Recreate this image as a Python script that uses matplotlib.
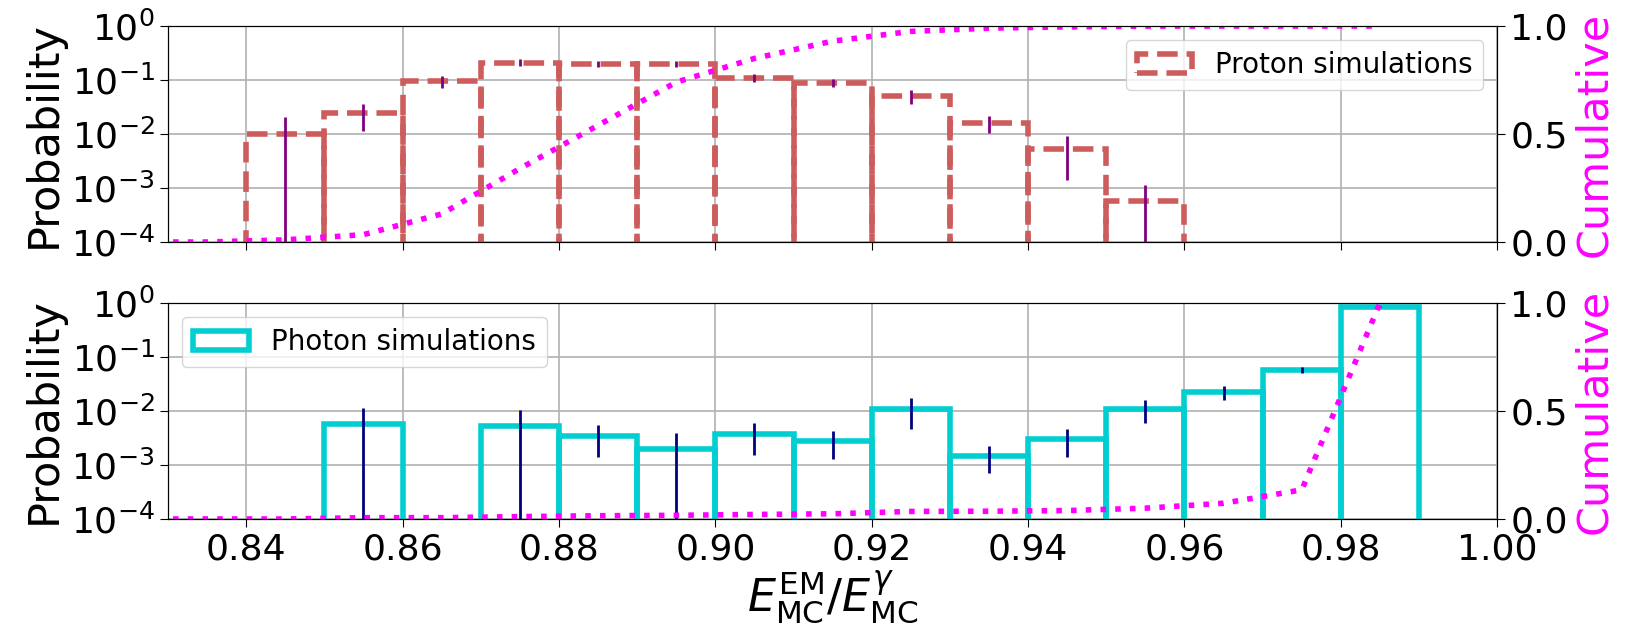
import numpy as np
import matplotlib
matplotlib.use('Agg')
import matplotlib.pyplot as plt

# bin edges (width 0.01)
proton_edges = [0.84, 0.85, 0.86, 0.87, 0.88, 0.89, 0.90, 0.91, 0.92, 0.93, 0.94, 0.95, 0.96]
proton_prob = [0.010, 0.024, 0.096, 0.21, 0.20, 0.20, 0.11, 0.088, 0.051, 0.016, 0.0053, 0.00057]
proton_err = [0.0105, 0.0125, 0.025, 0.03, 0.025, 0.025, 0.018, 0.015, 0.015, 0.0055, 0.0039, 0.00057]

photon_edges = [0.85, 0.86, 0.87, 0.88, 0.89, 0.90, 0.91, 0.92, 0.93, 0.94, 0.95, 0.96, 0.97, 0.98, 0.99]
photon_prob = [0.0057, 0.0, 0.0053, 0.0035, 0.00195, 0.0037, 0.0028, 0.0109, 0.00149, 0.0030, 0.0109, 0.0228, 0.0575, 0.855]
photon_err = [0.0057, 0.0, 0.0053, 0.0021, 0.00195, 0.0022, 0.0015, 0.0063, 0.00078, 0.0016, 0.005, 0.0068, 0.008, 0.02]

# cumulative curves, sampled at bin centres
cum_x = [0.825, 0.835, 0.845, 0.855, 0.865, 0.875, 0.885, 0.895, 0.905, 0.915,
         0.925, 0.935, 0.945, 0.955, 0.965, 0.975, 0.985]
proton_cum = [0.0, 0.0, 0.01, 0.034, 0.13, 0.34, 0.54, 0.74, 0.85, 0.93,
              0.975, 0.99, 0.996, 0.9995, 1.0, 1.0, 1.0]
photon_cum = [0.0, 0.0, 0.0, 0.006, 0.006, 0.011, 0.015, 0.017, 0.021, 0.024,
              0.035, 0.036, 0.039, 0.050, 0.073, 0.135, 1.0]

xticks = [0.84, 0.86, 0.88, 0.90, 0.92, 0.94, 0.96, 0.98, 1.00]

TICK = 26
LAB = 31

fig = plt.figure(figsize=(16.31, 6.36), dpi=100)
ax1 = fig.add_axes([0.103, 0.6195, 0.815, 0.3396])
ax2 = fig.add_axes([0.103, 0.184, 0.815, 0.3396], sharex=ax1)


def panel(ax, edges, prob, err, cum, color, ecolor, ls, label, loc):
    edges = np.array(edges)
    centers = (edges[:-1] + edges[1:]) / 2
    ax.hist(centers, bins=edges, weights=prob, histtype='bar', fill=False,
            edgecolor=color, linestyle=ls, linewidth=4, log=True, label=label, zorder=2)
    prob = np.array(prob)
    m = prob > 0
    ax.errorbar(centers[m], prob[m], yerr=np.array(err)[m], fmt='none',
                ecolor=ecolor, elinewidth=2, zorder=3)
    ax.set_yscale('log')
    ax.set_ylim(1e-4, 1)
    ax.set_yticks([1e-4, 1e-3, 1e-2, 1e-1, 1])
    ax.minorticks_off()
    ax.grid(True, color='#b0b0b0', linewidth=1.2)
    ax.set_axisbelow(True)
    ax.set_ylabel('Probability', fontsize=LAB)
    ax.tick_params(labelsize=TICK, length=6)
    ax.legend(loc=loc, fontsize=20, handlelength=2.0)

    tw = ax.twinx()
    tw.plot(cum_x, cum, ':', color='magenta', linewidth=4)
    tw.set_ylim(0, 1)
    tw.set_yticks([0.0, 0.5, 1.0])
    tw.set_ylabel('Cumulative', fontsize=LAB, color='magenta')
    tw.tick_params(labelsize=TICK, length=6)
    return tw


panel(ax1, proton_edges, proton_prob, proton_err, proton_cum,
      'indianred', 'purple', '--', 'Proton simulations', 'upper right')
panel(ax2, photon_edges, photon_prob, photon_err, photon_cum,
      'darkturquoise', 'navy', '-', 'Photon simulations', 'upper left')

ax1.set_xlim(0.83, 1.00)
ax1.set_xticks(xticks)
plt.setp(ax1.get_xticklabels(), visible=False)
ax2.set_xlabel(r'$E_{\rm MC}^{\rm EM}/E_{\rm MC}^{\gamma}$', fontsize=32, labelpad=2)

fig.savefig('out.png', dpi=100)
